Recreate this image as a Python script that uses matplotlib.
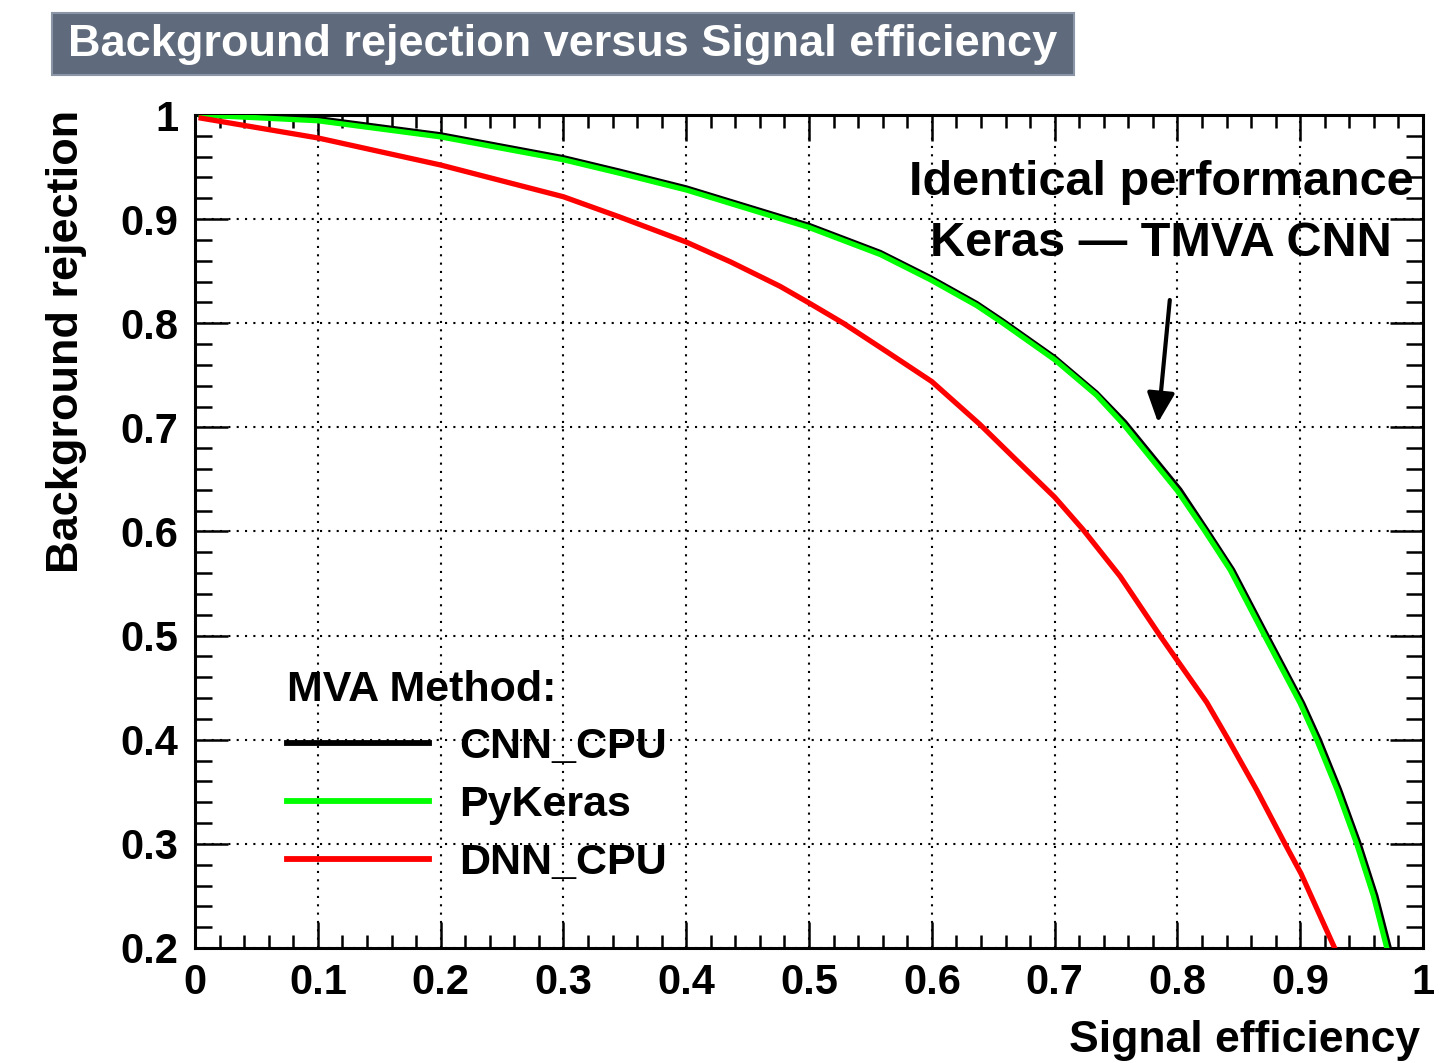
import matplotlib
matplotlib.use('Agg')
import matplotlib.pyplot as plt
from matplotlib.patches import Rectangle

plt.rcParams['font.family'] = ['Liberation Sans', 'DejaVu Sans']
plt.rcParams['font.weight'] = 'bold'
plt.rcParams['axes.labelweight'] = 'bold'

# ROC curves
cnn_x = [0.005, 0.1, 0.2, 0.3, 0.346, 0.4, 0.5, 0.558, 0.5985, 0.6365, 0.658, 0.7, 0.734, 0.757,
         0.802, 0.824, 0.845, 0.872, 0.902, 0.9155, 0.932, 0.948, 0.9616, 0.9725]
cnn_y = [1.0, 0.9965, 0.981, 0.959, 0.946, 0.930, 0.894, 0.868, 0.844, 0.819, 0.802, 0.767, 0.733, 0.705,
         0.640, 0.601, 0.563, 0.502, 0.435, 0.400, 0.352, 0.300, 0.250, 0.200]

keras_x = [0.005, 0.1, 0.2, 0.3, 0.346, 0.4, 0.5, 0.558, 0.5985, 0.6365, 0.658, 0.7, 0.734, 0.756,
           0.8, 0.822, 0.843, 0.870, 0.900, 0.9134, 0.930, 0.946, 0.9596, 0.9705]
keras_y = [1.0, 0.9945, 0.979, 0.957, 0.944, 0.928, 0.892, 0.866, 0.842, 0.817, 0.800, 0.765, 0.731, 0.703,
           0.639, 0.601, 0.563, 0.502, 0.435, 0.400, 0.352, 0.300, 0.250, 0.200]

dnn_x = [0.005, 0.1, 0.2, 0.3, 0.346, 0.4, 0.436, 0.4764, 0.5, 0.528, 0.5633, 0.6, 0.639, 0.6664, 0.7,
         0.723, 0.7533, 0.7858, 0.8, 0.8238, 0.8415, 0.8646, 0.8876, 0.9006, 0.928]
dnn_y = [0.997, 0.978, 0.952, 0.9215, 0.902, 0.878, 0.859, 0.8355, 0.8195, 0.800, 0.7727, 0.744, 0.703, 0.6714, 0.633,
         0.602, 0.557, 0.500, 0.476, 0.436, 0.400, 0.3516, 0.300, 0.2716, 0.200]

labels = ['CNN_CPU', 'PyKeras', 'DNN_CPU']
colors = ['black', '#00ff00', '#ff0000']

fig = plt.figure(figsize=(14.5, 10.63), dpi=100)
ax = fig.add_axes([0.1345, 0.1082, 0.8469, 0.7836])

ax.plot(cnn_x, cnn_y, color=colors[0], lw=3.8, label=labels[0], zorder=3)
ax.plot(keras_x, keras_y, color=colors[1], lw=3.8, label=labels[1], zorder=4)
ax.plot(dnn_x, dnn_y, color=colors[2], lw=3.8, label=labels[2], zorder=4)

ax.set_xlim(0, 1)
ax.set_ylim(0.2, 1)
ax.set_xticks([0, 0.1, 0.2, 0.3, 0.4, 0.5, 0.6, 0.7, 0.8, 0.9, 1])
ax.set_xticklabels(['0', '0.1', '0.2', '0.3', '0.4', '0.5', '0.6', '0.7', '0.8', '0.9', '1'])
ax.set_yticks([0.2, 0.3, 0.4, 0.5, 0.6, 0.7, 0.8, 0.9, 1])
ax.set_yticklabels(['0.2', '0.3', '0.4', '0.5', '0.6', '0.7', '0.8', '0.9', '1'])
ax.set_xticks([i * 0.02 for i in range(51)], minor=True)
ax.set_yticks([0.2 + i * 0.02 for i in range(41)], minor=True)

ax.tick_params(which='both', direction='in', top=True, right=True, width=1.8, labelsize=30)
ax.tick_params(axis='x', which='major', length=19, pad=11)
ax.tick_params(axis='x', which='minor', length=9.5)
ax.tick_params(axis='y', which='major', length=24, pad=12)
ax.tick_params(axis='y', which='minor', length=12.5)
for s in ax.spines.values():
    s.set_linewidth(2.2)

ax.grid(True, which='major', color='black', linestyle=(0, (1, 3)), lw=1.5)

ax.set_xlabel('Signal efficiency', fontsize=32, loc='right')
ax.xaxis.set_label_coords(0.998, -0.086)
ax.set_ylabel('Background rejection', fontsize=32.5, loc='top')
ax.yaxis.set_label_coords(-0.088, 1.006)

leg = ax.legend(title='MVA Method:', loc='upper left', bbox_to_anchor=(0.075, 0.334),
                frameon=False, fontsize=31, title_fontsize=31, handlelength=3.3,
                handletextpad=0.7, labelspacing=0.41, borderpad=0, borderaxespad=0,
                alignment='left')
for line in leg.get_lines():
    line.set_linewidth(4.2)

# annotation
ax.text(0.7866, 0.935, 'Identical performance', fontsize=35, ha='center', va='center', zorder=6)
ax.text(0.7866, 0.877, 'Keras \u2014 TMVA CNN', fontsize=35, ha='center', va='center', zorder=6)
ax.annotate('', xy=(0.784, 0.702), xytext=(0.794, 0.825),
            arrowprops=dict(arrowstyle='-|>,head_length=0.45,head_width=0.21',
                            lw=3, color='black', mutation_scale=40))

# title box
fig.patches.append(Rectangle((0.0359, 0.9294), 0.7048, 0.0584, transform=fig.transFigure,
                             facecolor='#5f6b7c', edgecolor='#8a96a6', lw=1.5))
fig.text(0.388, 0.9586, 'Background rejection versus Signal efficiency', color='white',
         fontsize=32.5, ha='center', va='center')

plt.savefig('out.png', dpi=100)
